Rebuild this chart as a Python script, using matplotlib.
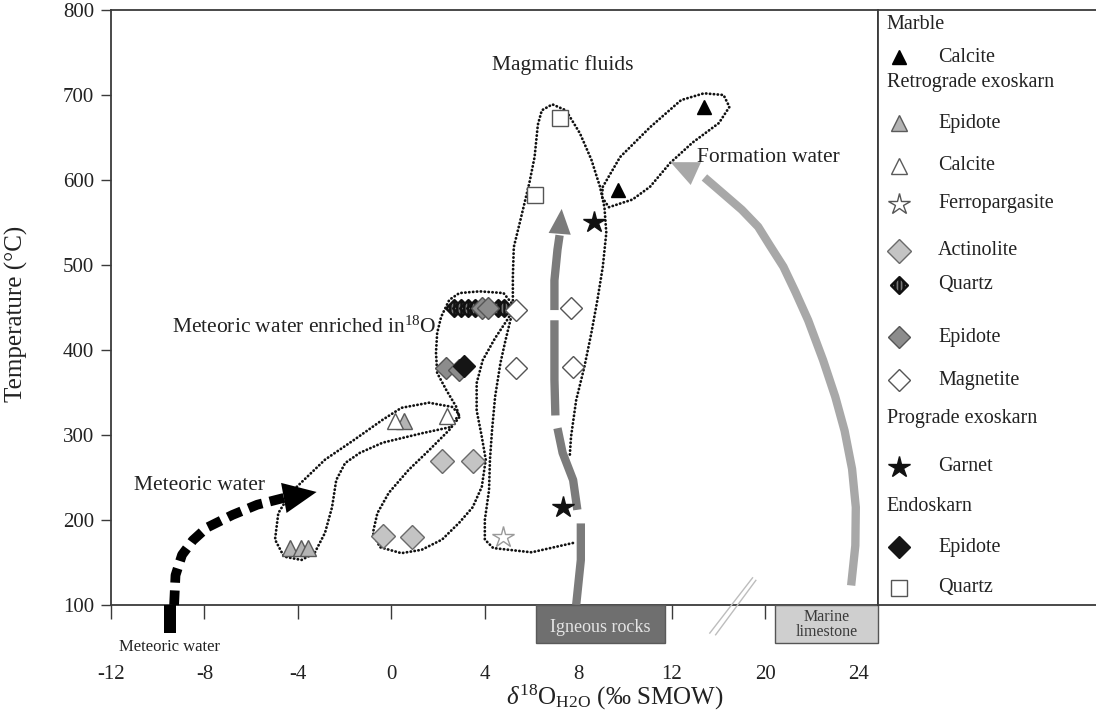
import numpy as np
import matplotlib
matplotlib.use('Agg')
import matplotlib.pyplot as plt
from matplotlib.patches import Rectangle
from matplotlib.path import Path

plt.rcParams['font.family'] = ['Liberation Serif', 'DejaVu Serif']
plt.rcParams['mathtext.fontset'] = 'custom'
plt.rcParams['mathtext.rm'] = 'Liberation Serif'
plt.rcParams['mathtext.it'] = 'Liberation Serif:italic'

# x is given in axis position: the axis is broken between 12 and 20,
# so labels 20 and 24 sit at positions 16 and 20
tick_pos = [-12, -8, -4, 0, 4, 8, 12, 16, 20]
tick_lab = ['-12', '-8', '-4', '0', '4', '8', '12', '20', '24']
temp_ticks = [100, 200, 300, 400, 500, 600, 700, 800]

# ---- mineral data (d18O position, temperature) ----
marble_calcite_x = [9.7, 13.4]
marble_calcite_t = [588, 686]

retro_epidote_tri_x = [-4.35, -3.85, -3.55, 0.52]
retro_epidote_tri_t = [167, 167, 167, 316]

retro_calcite_x = [0.17, 2.39]
retro_calcite_t = [317, 322]

ferropargasite_x = [4.76]
ferropargasite_t = [180]

actinolite_x = [2.15, 3.48, -0.37, 0.9]
actinolite_t = [269, 269, 181, 180]

retro_quartz_x = [2.7, 3.0, 3.3, 3.6, 4.55, 4.8]
retro_quartz_t = [449, 449, 449, 449, 449, 449]

retro_epidote_dia_x = [3.9, 4.15, 2.35, 2.91]
retro_epidote_dia_t = [449, 449, 379, 377]

magnetite_x = [5.35, 7.69, 5.33, 7.78]
magnetite_t = [447, 449, 379, 380]

garnet_x = [8.67, 7.35]
garnet_t = [551, 215]

endo_epidote_x = [3.13]
endo_epidote_t = [381]

endo_quartz_x = [7.2, 6.13]
endo_quartz_t = [673, 582]

# ---- dotted envelopes ----
env_t_x = [-4.05, -2.84, -1.61, -0.37, 0.43, 1.61, 2.61, 2.91, 2.48, 1.30, -0.37, -1.35,
           -1.98, -2.36, -2.54, -2.84, -3.29, -3.85, -4.60, -4.98, -4.84, -4.42]
env_t_y = [239, 271, 294, 318, 332, 338, 333, 324, 309, 302, 291, 279,
           267, 247, 215, 185, 161, 153, 157, 177, 208, 227]

env_e_x = [5.24, 4.8, 3.78, 2.91, 2.48, 2.13, 1.96, 1.91, 1.96, 2.35, 2.78, 2.91, 2.48, 1.61,
           0.74, -0.11, -0.60, -0.79, -0.49, 0.43, 1.30, 2.17, 2.91, 3.48, 3.87, 4.04, 3.87,
           3.65, 3.65, 3.91, 4.44, 5.02]
env_e_y = [452, 467, 469, 467, 459, 439, 420, 397, 373, 353, 333, 321, 306, 282,
           259, 232, 208, 185, 168, 161, 165, 177, 197, 215, 239, 271, 298,
           329, 361, 388, 414, 438]

env_a_x = [7.64, 7.69, 7.91, 8.26, 8.56, 8.82, 9.05, 9.20, 9.12, 8.93, 8.56, 8.07, 7.47, 6.89,
           6.44, 6.27, 6.13, 5.91, 5.56, 5.24, 5.2, 5.2, 4.89, 4.67, 4.44, 4.31, 4.22, 4.18,
           4.0, 4.0, 4.36, 6.0, 7.78]
env_a_y = [277, 298, 341, 380, 420, 459, 498, 538, 568, 592, 624, 655, 682, 689,
           682, 665, 627, 597, 557, 521, 486, 447, 412, 385, 345, 306, 271, 235,
           200, 177, 167, 162, 173]

env_m_x = [9.05, 9.79, 11.07, 12.40, 13.38, 14.22, 14.47, 14.02, 12.89, 11.93, 11.07, 10.32, 9.31, 9.01]
env_m_y = [592, 627, 662, 694, 702, 700, 686, 667, 644, 620, 592, 577, 568, 580]

# ---- fluid path arrows ----
meteoric_x = [-9.3, -9.24, -8.96, -8.5, -7.9, -6.8, -5.74, -4.6]
meteoric_y = [100, 135, 159, 176, 191, 206, 218, 226]
meteoric_tip = (-3.2, 233)

igneous_segments = [
    ([7.91, 8.11, 8.11], [100, 153, 196]),
    ([7.96, 7.78, 7.33, 7.11], [212, 247, 279, 308]),
    ([7.02, 6.98, 6.98], [323, 365, 435]),
    ([6.98, 6.98, 7.11, 7.2], [447, 482, 518, 535]),
]
igneous_tip = (7.29, 566)

formation_x = [19.68, 19.86, 19.88, 19.72, 19.40, 19.0, 18.48, 17.84, 17.3, 16.78, 16.2, 15.7, 15.0, 14.37, 13.4]
formation_y = [123, 170, 215, 260, 305, 345, 388, 435, 468, 498, 523, 545, 565, 580, 603]
formation_tip = (11.95, 621)

# source reservoirs below the axis (x from, x to)
igneous_box = (6.18, 11.7)
marine_box = (16.41, 20.83)
meteoric_bar = (-9.72, -9.2)

# striped diamond marker for quartz
stripe_path = Path(
    [(0, 1), (1, 0), (0, -1), (-1, 0), (0, 1),
     (-0.5, -0.5), (-0.5, 0.5), (0, -1), (0, 1), (0.5, -0.5), (0.5, 0.5)],
    [Path.MOVETO, Path.LINETO, Path.LINETO, Path.LINETO, Path.CLOSEPOLY,
     Path.MOVETO, Path.LINETO, Path.MOVETO, Path.LINETO, Path.MOVETO, Path.LINETO])

styles = {
    'marble_calcite': dict(marker='^', ms=10, mfc='black', mec='black', mew=1),
    'retro_epidote_tri': dict(marker='^', ms=11.5, mfc='#b4b4b4', mec='#5a5a5a', mew=1),
    'retro_calcite': dict(marker='^', ms=11.5, mfc='white', mec='#5a5a5a', mew=1),
    'ferropargasite': dict(marker='*', ms=16, mfc='white', mec='#9a9a9a', mew=1),
    'actinolite': dict(marker='D', ms=12, mfc='#c4c4c4', mec='#6a6a6a', mew=1),
    'retro_quartz': dict(marker=stripe_path, ms=12, mfc='#777777', mec='#111111', mew=1.8),
    'retro_epidote_dia': dict(marker='D', ms=11, mfc='#8c8c8c', mec='#555555', mew=1),
    'magnetite': dict(marker='D', ms=11, mfc='white', mec='#555555', mew=1),
    'garnet': dict(marker='*', ms=16, mfc='#111111', mec='#111111', mew=1),
    'endo_epidote': dict(marker='D', ms=11, mfc='#151515', mec='#151515', mew=1),
    'endo_quartz': dict(marker='s', ms=12, mfc='white', mec='#555555', mew=1),
}

series = [
    ('retro_epidote_tri', retro_epidote_tri_x, retro_epidote_tri_t),
    ('retro_calcite', retro_calcite_x, retro_calcite_t),
    ('ferropargasite', ferropargasite_x, ferropargasite_t),
    ('actinolite', actinolite_x, actinolite_t),
    ('retro_quartz', retro_quartz_x, retro_quartz_t),
    ('retro_epidote_dia', retro_epidote_dia_x, retro_epidote_dia_t),
    ('endo_epidote', endo_epidote_x, endo_epidote_t),
    ('magnetite', magnetite_x, magnetite_t),
    ('garnet', garnet_x, garnet_t),
    ('endo_quartz', endo_quartz_x, endo_quartz_t),
    ('marble_calcite', marble_calcite_x, marble_calcite_t),
]

legend_rows = [
    ('Marble', None), ('Calcite', 'marble_calcite'),
    ('Retrograde exoskarn', None), ('Epidote', 'retro_epidote_tri'),
    ('Calcite', 'retro_calcite'), ('Ferropargasite', 'ferropargasite'),
    ('Actinolite', 'actinolite'), ('Quartz', 'retro_quartz'),
    ('Epidote', 'retro_epidote_dia'), ('Magnetite', 'magnetite'),
    ('Prograde exoskarn', None), ('Garnet', 'garnet'),
    ('Endoskarn', None), ('Epidote', 'endo_epidote'), ('Quartz', 'endo_quartz'),
]
legend_row_y = [0.025, 0.079, 0.121, 0.190, 0.262, 0.326, 0.405, 0.462,
                0.550, 0.622, 0.686, 0.768, 0.835, 0.903, 0.971]

spine_col = '#3a3a3a'

fig = plt.figure(figsize=(10.96, 7.2), dpi=100)
ax = fig.add_axes([0.1013, 0.1597, 0.6998, 0.8264])
ax.set_xlim(-12, 20.83)
ax.set_ylim(100, 800)

for s in ax.spines.values():
    s.set_color(spine_col)
    s.set_linewidth(1.3)

ax.set_xticks(tick_pos)
ax.set_xticklabels(tick_lab)
ax.set_yticks(temp_ticks)
ax.tick_params(axis='x', direction='out', length=10, width=1, colors=spine_col,
               labelcolor='#222222', labelsize=15, pad=33)
ax.tick_params(axis='y', direction='out', length=7, width=1, colors=spine_col,
               labelcolor='#222222', labelsize=15, pad=5)
ax.set_ylabel('Temperature (°C)', fontsize=18, color='#222222')
ax.yaxis.set_label_coords(-0.108, 0.49)

# dotted envelopes
dot = dict(color='#111111', lw=2.0, linestyle=(0, (0.1, 1.3)), dash_capstyle='round', zorder=2)
for ex, ey in [(env_t_x, env_t_y), (env_e_x, env_e_y), (env_m_x, env_m_y)]:
    ax.plot(ex + ex[:1], ey + ey[:1], **dot)
ax.plot(env_a_x, env_a_y, **dot)

# meteoric water path (dashed black)
ax.plot(meteoric_x, meteoric_y, color='black', lw=7, linestyle=(0, (1.5, 0.8)),
        dash_capstyle='butt', solid_joinstyle='round', zorder=3, clip_on=False)
ax.annotate('', xy=meteoric_tip, xytext=(meteoric_x[-1], meteoric_y[-1]),
            arrowprops=dict(arrowstyle='-|>,head_length=1.2,head_width=0.55', mutation_scale=20,
                            fc='black', ec='black', lw=0, shrinkA=0, shrinkB=0), zorder=3)

# igneous rock path (dark gray, broken)
ig_col = '#7b7b7b'
for sx, sy in igneous_segments:
    ax.plot(sx, sy, color=ig_col, lw=6, solid_capstyle='butt', solid_joinstyle='round', zorder=3)
last_x, last_y = igneous_segments[-1]
ax.annotate('', xy=igneous_tip, xytext=(last_x[-1], last_y[-1]),
            arrowprops=dict(arrowstyle='-|>,head_length=0.9,head_width=0.4', mutation_scale=20,
                            fc=ig_col, ec=ig_col, lw=0, shrinkA=0, shrinkB=0), zorder=3)

# formation water path (light gray)
fw_col = '#a8a8a8'
ax.plot(formation_x, formation_y, color=fw_col, lw=6, solid_capstyle='butt',
        solid_joinstyle='round', zorder=3)
ax.annotate('', xy=formation_tip, xytext=(formation_x[-1], formation_y[-1]),
            arrowprops=dict(arrowstyle='-|>,head_length=1.0,head_width=0.45', mutation_scale=20,
                            fc=fw_col, ec=fw_col, lw=0, shrinkA=0, shrinkB=0), zorder=3)

# mineral symbols
for key, xs, ts in series:
    ax.plot(xs, ts, linestyle='none', zorder=5, **styles[key])

# reservoirs under the axis
ax.add_patch(Rectangle((igneous_box[0], 55), igneous_box[1] - igneous_box[0], 45,
                       fc='#6f6f6f', ec='#5a5a5a', lw=1, clip_on=False, zorder=6))
ax.text(np.mean(igneous_box), 74, 'Igneous rocks', ha='center', va='center',
        fontsize=13, color='#e4e4e4', zorder=7, clip_on=False)
ax.add_patch(Rectangle((marine_box[0], 55), marine_box[1] - marine_box[0], 45,
                       fc='#cfcfcf', ec='#555555', lw=1, clip_on=False, zorder=6))
ax.text(np.mean(marine_box), 77, 'Marine\nlimestone', ha='center', va='center',
        fontsize=11.5, color='#3a3a3a', linespacing=0.85, zorder=7, clip_on=False)
ax.add_patch(Rectangle((meteoric_bar[0], 67), meteoric_bar[1] - meteoric_bar[0], 33,
                       fc='black', ec='black', lw=0, clip_on=False, zorder=6))
ax.text(-9.5, 51, 'Meteoric water', ha='center', va='center', fontsize=12,
        color='#222222', clip_on=False)

# axis break mark
ax.plot([13.63, 15.46], [67, 132], color='#bdbdbd', lw=1, clip_on=False, zorder=6)
ax.plot([13.88, 15.6], [65, 129], color='#bdbdbd', lw=1, clip_on=False, zorder=6)

# annotations
txt = dict(fontsize=15.5, color='#222222', va='center')
ax.text(7.33, 735, 'Magmatic fluids', ha='center', **txt)
ax.text(13.1, 627, 'Formation water', ha='left', **txt)
ax.text(-9.4, 427, 'Meteoric water enriched in$^{18}$O', ha='left', **txt)
ax.text(-11.0, 241, 'Meteoric water', ha='left', **txt)

fig.text(0.561, 0.032, r'$\delta^{18}$O$_{\rm H2O}$ (‰ SMOW)', ha='center', va='center',
         fontsize=18, color='#222222')

# legend panel
lax = fig.add_axes([0.8011, 0.1597, 0.1989, 0.8264])
lax.set_xlim(0, 1)
lax.set_ylim(1, 0)
lax.set_xticks([])
lax.set_yticks([])
for name, s in lax.spines.items():
    s.set_color(spine_col)
    s.set_linewidth(1.3)
lax.spines['right'].set_visible(False)

for (label, key), ry in zip(legend_rows, legend_row_y):
    if key is None:
        lax.text(0.04, ry, label, ha='left', va='center', fontsize=14.5, color='#222222')
    else:
        st = dict(styles[key])
        if key == 'ferropargasite':
            st['mec'] = '#555555'
        lax.plot([0.095], [ry], linestyle='none', **st)
        lax.text(0.275, ry, label, ha='left', va='center', fontsize=14.5, color='#222222')

fig.savefig('out.png', dpi=100)
